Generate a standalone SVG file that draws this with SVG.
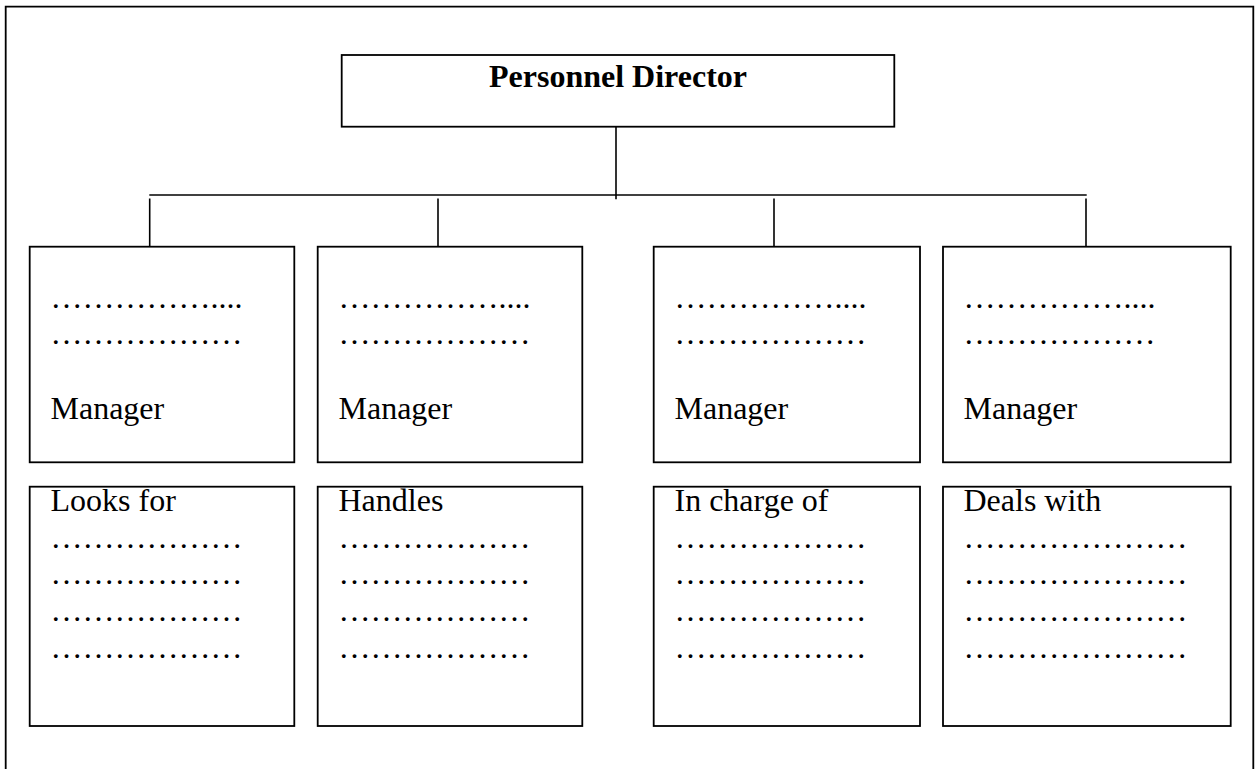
<svg xmlns="http://www.w3.org/2000/svg" width="1260" height="769" viewBox="0 0 1260 769">
  <style>
    .box { fill: #ffffff; stroke: #000000; stroke-width: 1.8; }
    .frame { fill: none; stroke: #000000; stroke-width: 1.8; }
    .link { fill: none; stroke: #000000; stroke-width: 1.6; }
    .t { font-family: "Liberation Serif", "Times New Roman", serif; font-size: 32px; fill: #000000; }
    .title { font-weight: bold; text-anchor: middle; }
  </style>

  <rect x="0" y="0" width="1260" height="769" fill="#ffffff"/>

  <!-- page frame (open at the bottom) -->
  <path class="frame" d="M5.7,780 V6.7 H1253.3 V780"/>

  <!-- connectors -->
  <g id="connectors">
    <line class="link" x1="616" y1="126.7" x2="616" y2="199.3"/>
    <line class="link" x1="149.3" y1="195" x2="1086.7" y2="195"/>
    <line class="link" x1="149.7" y1="198.5" x2="149.7" y2="246.7"/>
    <line class="link" x1="438" y1="198.5" x2="438" y2="246.7"/>
    <line class="link" x1="774" y1="198.5" x2="774" y2="246.7"/>
    <line class="link" x1="1086" y1="198.5" x2="1086" y2="246.7"/>
  </g>

  <!-- top node -->
  <g id="director">
    <rect class="box" x="341.7" y="55" width="552.6" height="71.7"/>
    <text class="t title" x="618" y="87.3">Personnel Director</text>
  </g>

  <!-- manager nodes -->
  <g id="manager-1">
    <rect class="box" x="29.7" y="246.7" width="264.6" height="215.6"/>
    <text class="t" x="50.5" y="307.7">……………....</text>
    <text class="t" x="50.5" y="344">………………</text>
    <text class="t" x="50.5" y="419.3">Manager</text>
  </g>
  <g id="manager-2">
    <rect class="box" x="317.7" y="246.7" width="264.6" height="215.6"/>
    <text class="t" x="338.5" y="307.7">……………....</text>
    <text class="t" x="338.5" y="344">………………</text>
    <text class="t" x="338.5" y="419.3">Manager</text>
  </g>
  <g id="manager-3">
    <rect class="box" x="653.7" y="246.7" width="266.3" height="215.6"/>
    <text class="t" x="674.5" y="307.7">……………....</text>
    <text class="t" x="674.5" y="344">………………</text>
    <text class="t" x="674.5" y="419.3">Manager</text>
  </g>
  <g id="manager-4">
    <rect class="box" x="943" y="246.7" width="287.7" height="215.6"/>
    <text class="t" x="963.5" y="307.7">……………....</text>
    <text class="t" x="963.5" y="344">………………</text>
    <text class="t" x="963.5" y="419.3">Manager</text>
  </g>

  <!-- duty nodes -->
  <g id="duty-1">
    <rect class="box" x="29.7" y="486.7" width="264.6" height="239.3"/>
    <text class="t" x="50.5" y="510.7">Looks for</text>
    <text class="t" x="50.5" y="547.7">………………</text>
    <text class="t" x="50.5" y="584.4">………………</text>
    <text class="t" x="50.5" y="621.1">………………</text>
    <text class="t" x="50.5" y="658.4">………………</text>
  </g>
  <g id="duty-2">
    <rect class="box" x="317.7" y="486.7" width="264.6" height="239.3"/>
    <text class="t" x="338.5" y="510.7">Handles</text>
    <text class="t" x="338.5" y="547.7">………………</text>
    <text class="t" x="338.5" y="584.4">………………</text>
    <text class="t" x="338.5" y="621.1">………………</text>
    <text class="t" x="338.5" y="658.4">………………</text>
  </g>
  <g id="duty-3">
    <rect class="box" x="653.7" y="486.7" width="266.3" height="239.3"/>
    <text class="t" x="674.5" y="510.7">In charge of</text>
    <text class="t" x="674.5" y="547.7">………………</text>
    <text class="t" x="674.5" y="584.4">………………</text>
    <text class="t" x="674.5" y="621.1">………………</text>
    <text class="t" x="674.5" y="658.4">………………</text>
  </g>
  <g id="duty-4">
    <rect class="box" x="943" y="486.7" width="287.7" height="239.3"/>
    <text class="t" x="963.5" y="510.7">Deals with</text>
    <text class="t" x="963.5" y="547.7">…………………</text>
    <text class="t" x="963.5" y="584.4">…………………</text>
    <text class="t" x="963.5" y="621.1">…………………</text>
    <text class="t" x="963.5" y="658.4">…………………</text>
  </g>
</svg>
